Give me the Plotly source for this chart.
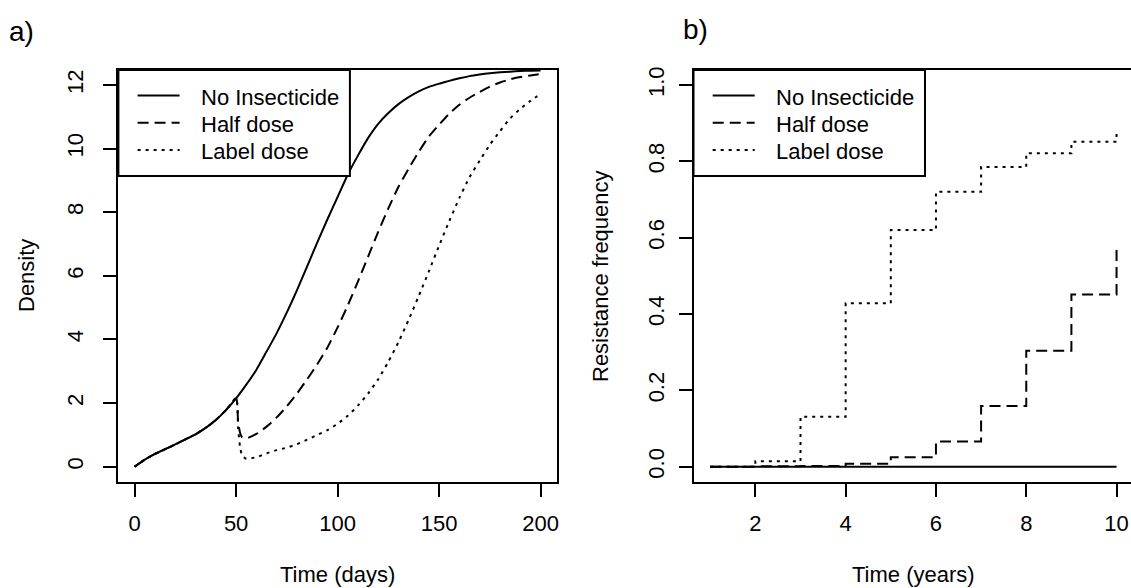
import plotly.graph_objects as go

# ---------------- data ----------------
# Panel a: population density over time (days)
days = [0, 5, 10, 15, 20, 25, 30, 35, 40, 45, 50, 55, 60, 65, 70, 75, 80, 85, 90, 95, 100,
        105, 110, 115, 120, 125, 130, 135, 140, 145, 150, 155, 160, 165, 170, 175, 180,
        185, 190, 195, 200]
density_none = [0.0, 0.22, 0.40, 0.55, 0.70, 0.86, 1.02, 1.22, 1.47, 1.78, 2.15, 2.58, 3.05, 3.62,
                4.2, 4.85, 5.55, 6.3, 7.05, 7.78, 8.48, 9.18, 9.78, 10.33, 10.78, 11.12, 11.4,
                11.62, 11.8, 11.94, 12.04, 12.13, 12.21, 12.28, 12.33, 12.37, 12.40, 12.42,
                12.44, 12.45, 12.46]

days_treated = [0, 5, 10, 15, 20, 25, 30, 35, 40, 45, 50, 51, 52, 53, 55, 60, 65, 70, 75, 80, 85,
                90, 95, 100, 105, 110, 115, 120, 125, 130, 135, 140, 145, 150, 155, 160, 165,
                170, 175, 180, 185, 190, 195, 200]
density_half = [0.0, 0.22, 0.40, 0.55, 0.70, 0.86, 1.02, 1.22, 1.47, 1.78, 2.15, 1.4, 1.05, 0.92,
                0.89, 1.03, 1.26, 1.55, 1.9, 2.3, 2.75, 3.22, 3.75, 4.38, 5.07, 5.82, 6.6, 7.38,
                8.12, 8.8, 9.37, 9.9, 10.38, 10.75, 11.1, 11.38, 11.6, 11.78, 11.95, 12.08,
                12.18, 12.25, 12.3, 12.35]
density_label = [0.0, 0.22, 0.40, 0.55, 0.70, 0.86, 1.02, 1.22, 1.47, 1.78, 2.15, 1.2, 0.6, 0.35,
                 0.25, 0.3, 0.42, 0.52, 0.6, 0.71, 0.85, 1.0, 1.15, 1.35, 1.6, 1.92, 2.3, 2.75,
                 3.3, 3.92, 4.62, 5.37, 6.15, 6.95, 7.72, 8.45, 9.1, 9.62, 10.12, 10.55, 10.95,
                 11.25, 11.5, 11.72]

# Panel b: resistance frequency per year
years = [1, 2, 3, 4, 5, 6, 7, 8, 9, 10]
res_none = [0, 0, 0, 0, 0, 0, 0, 0, 0, 0]
res_half = [0.0, 0.001, 0.002, 0.008, 0.025, 0.066, 0.159, 0.304, 0.451, 0.568]
res_label = [0.0, 0.014, 0.131, 0.428, 0.620, 0.720, 0.785, 0.821, 0.851, 0.872]

series_names = ["No Insecticide", "Half dose", "Label dose"]
x_ticks_a = [0, 50, 100, 150, 200]
y_ticks_a = [0, 2, 4, 6, 8, 10, 12]
x_ticks_b = [2, 4, 6, 8, 10]
y_ticks_b = [0.0, 0.2, 0.4, 0.6, 0.8, 1.0]

# ---------------- styling / layout helpers ----------------
W, H = 1131, 588
FONT = "Liberation Sans, Arial, sans-serif"
FS = 22
INK = "black"
DASHES = ["solid", "11px,6px", "3px,5px"]
LW = 2


def fx(p):
    return p / W


def fy(p):
    return 1 - p / H


fig = go.Figure()

# panel a
for yv, xv, name, dash in [(density_none, days, series_names[0], DASHES[0]),
                           (density_half, days_treated, series_names[1], DASHES[1]),
                           (density_label, days_treated, series_names[2], DASHES[2])]:
    fig.add_trace(go.Scatter(x=xv, y=yv, mode="lines", name=name, showlegend=False,
                             line=dict(color=INK, width=LW, dash=dash, shape="spline",
                                       smoothing=0.6),
                             xaxis="x", yaxis="y"))

# panel b
for yv, name, dash in [(res_none, series_names[0], DASHES[0]),
                       (res_half, series_names[1], DASHES[1]),
                       (res_label, series_names[2], DASHES[2])]:
    fig.add_trace(go.Scatter(x=years, y=yv, mode="lines", name=name, showlegend=False,
                             line=dict(color=INK, width=LW, dash=dash, shape="hv"),
                             xaxis="x2", yaxis="y2"))

axis_common = dict(showline=True, linewidth=2, linecolor=INK, ticks="outside", ticklen=13,
                   tickwidth=2, tickcolor=INK, showgrid=False, zeroline=False,
                   tickfont=dict(family=FONT, size=FS, color=INK), automargin=False)

ydom = [fy(482), fy(70)]
fig.update_layout(
    width=W, height=H,
    margin=dict(l=0, r=0, t=0, b=0),
    paper_bgcolor="white", plot_bgcolor="white",
    font=dict(family=FONT, size=FS, color=INK),
    xaxis=dict(domain=[fx(118.4), fx(556.8)], range=[-8, 208], tickvals=x_ticks_a,
               mirror=True, anchor="y", ticklabelstandoff=8, **axis_common),
    yaxis=dict(domain=ydom, range=[-0.481, 12.472], tickvals=y_ticks_a, tickangle=-90,
               mirror=True, anchor="x", ticklabelstandoff=12, **axis_common),
    xaxis2=dict(domain=[fx(693.5), 1.0], range=[0.63, 10.32], tickvals=x_ticks_b,
                mirror=True, anchor="y2", ticklabelstandoff=8, **axis_common),
    yaxis2=dict(domain=ydom, range=[-0.0401, 1.0393], tickvals=y_ticks_b, tickformat=".1f",
                tickangle=-90, mirror=False, anchor="x2", ticklabelstandoff=6, **axis_common),
)

annotations = []
shapes = []


def add_text(text, x, y, xanchor="center", angle=0, size=FS):
    annotations.append(dict(text=text, x=fx(x), y=fy(y), xref="paper", yref="paper",
                            showarrow=False, xanchor=xanchor, yanchor="middle",
                            textangle=angle, font=dict(family=FONT, size=size, color=INK)))


# panel letters and axis titles
add_text("a)", 7, 31, xanchor="left", size=28)
add_text("b)", 681, 29, xanchor="left", size=28)
add_text("Density", 26, 276, angle=-90)
add_text("Resistance frequency", 600, 276, angle=-90)
add_text("Time (days)", 337.6, 574)
add_text("Time (years)", 913, 574)

# legends (one per panel)
for box_left in (118.4, 693.5):
    shapes.append(dict(type="rect", xref="paper", yref="paper",
                       x0=fx(box_left), x1=fx(box_left + 231.5), y0=fy(176), y1=fy(70),
                       line=dict(color=INK, width=2), fillcolor="white", layer="above"))
    for i, (name, dash) in enumerate(zip(series_names, DASHES)):
        yrow = 95.5 + i * 27.3
        shapes.append(dict(type="line", xref="paper", yref="paper",
                           x0=fx(box_left + 19.2), x1=fx(box_left + 61.2),
                           y0=fy(yrow), y1=fy(yrow),
                           line=dict(color=INK, width=LW, dash=dash), layer="above"))
        add_text(name, box_left + 80.8, yrow + 1.5, xanchor="left")

fig.update_layout(annotations=annotations, shapes=shapes)

fig.write_html("out.html", config={"displayModeBar": False})
